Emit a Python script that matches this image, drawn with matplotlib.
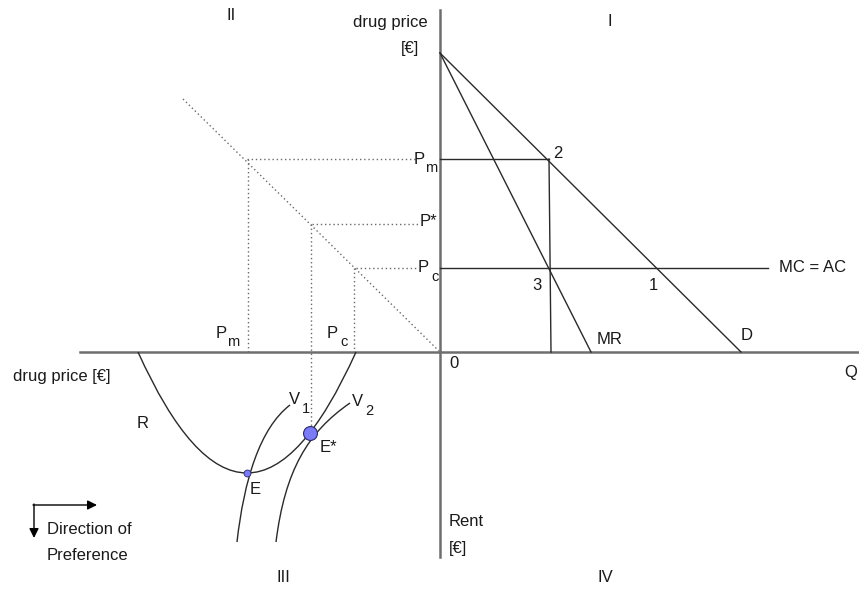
import matplotlib.pyplot as plt
from matplotlib.path import Path
from matplotlib.patches import PathPatch

# Model units: quantity to the right, price up (quadrant I),
# price to the left and rent down (quadrant III)
price_top = 299          # demand / MR intercept on price axis
demand_end = 301         # D intercept on quantity axis
mr_end = 151             # MR intercept on quantity axis
mc_end = 328             # end of MC = AC line
p_m = 193
p_star = 128
p_c = 84
q_m = 109

# 45 degree mirror line in quadrant II
mirror_x = [-257, 0]
mirror_y = [253, 0]

# rent parabola R (start, control, end)
r_ctrl = [(-302, 0), (-193, -242), (-84, 0)]
# indifference curves (cubic bezier control points)
v1_ctrl = [(-203, -190), (-196, -128), (-180, -76), (-150, -53)]
v2_ctrl = [(-164, -190), (-155, -118), (-132, -80), (-90, -51)]
e_pt = (-193, -121)
e_star = (-130, -81)

plt.rcParams['font.family'] = ['Liberation Sans', 'DejaVu Sans']
fig = plt.figure(figsize=(8.59, 5.94), dpi=100)
ax = fig.add_axes([0, 0, 1, 1])
ax.set_xlim(-440, 419)
ax.set_ylim(-242, 352)
ax.axis('off')

axis_kw = dict(color='#6e6e6e', lw=1.8, zorder=2)
line_kw = dict(color='#2a2a2a', lw=1.0, zorder=3)
dot_kw = dict(color='#6a6a6a', lw=1.0, ls=(0, (1, 2)), zorder=2)
fs = 12
sub = 10.5

# Axes
ax.plot([-360, 419], [0, 0], **axis_kw)
ax.plot([0, 0], [-205, 342], **axis_kw)

# Quadrant I
ax.plot([0, demand_end], [price_top, 0], **line_kw)
ax.plot([0, mr_end], [price_top, 0], **line_kw)
ax.plot([0, mc_end], [p_c, p_c], **line_kw)
ax.plot([0, q_m], [p_m, p_m], **line_kw)
ax.plot([q_m, q_m + 2], [p_m, 0], **line_kw)

# Quadrant II mirror
ax.plot(mirror_x, mirror_y, **dot_kw)
for p in [p_m, p_star, p_c]:
    ax.plot([-p, -22], [p, p], **dot_kw)
ax.plot([-p_m + 1, -p_m + 1], [p_m, 0], **dot_kw)
ax.plot([-p_c - 2, -p_c - 2], [p_c, 0], **dot_kw)
ax.plot([e_star[0] + 1, e_star[0] + 1], [p_star, e_star[1] + 5], **dot_kw)

# Quadrant III curves
r_path = Path(r_ctrl, [Path.MOVETO, Path.CURVE3, Path.CURVE3])
ax.add_patch(PathPatch(r_path, fill=False, ec='#2a2a2a', lw=1.0, zorder=3))
for ctrl in [v1_ctrl, v2_ctrl]:
    path = Path(ctrl, [Path.MOVETO, Path.CURVE4, Path.CURVE4, Path.CURVE4])
    ax.add_patch(PathPatch(path, fill=False, ec='#2a2a2a', lw=1.0, zorder=3))
ax.plot(*e_pt, 'o', ms=5, mfc='#7b7bf5', mec='#2a2a6a', mew=0.6, zorder=5)
ax.plot(*e_star, 'o', ms=10, mfc='#7b7bf5', mec='#2a2a6a', mew=0.8, zorder=5)

# Direction of preference arrows
ax.annotate('', xy=(-343, -153), xytext=(-407, -153),
            arrowprops=dict(arrowstyle='-|>', color='black', lw=1.0,
                            mutation_scale=14, shrinkA=0, shrinkB=0))
ax.annotate('', xy=(-406, -186), xytext=(-406, -152),
            arrowprops=dict(arrowstyle='-|>', color='black', lw=1.0,
                            mutation_scale=14, shrinkA=0, shrinkB=0))


def label(x, y, s, ha='center', size=fs):
    ax.text(x, y, s, ha=ha, va='center', fontsize=size, color='#1a1a1a', zorder=6)


def sublabel(x, y, main, low):
    label(x, y, main)
    label(x + 12, y - 9, low, size=sub)


# Quadrant numbers
label(170, 330, 'I')
label(-209, 336, 'II')
label(-157, -226, 'III')
label(165, -226, 'IV')

# Axis titles
label(-12, 330, 'drug price', ha='right')
label(-21, 304, '[€]', ha='right')
label(-427, -24, 'drug price [€]', ha='left')
label(9, -170, 'Rent', ha='left')
label(9, -196, '[€]', ha='left')
label(14, -11, '0')
label(404, -21, 'Q', ha='left')

# Quadrant I labels
label(170, 12, 'MR')
label(307, 17, 'D')
label(339, 85, 'MC = AC', ha='left')
label(118, 199, '2')
label(97, 67, '3')
label(213, 66, '1')
sublabel(-21, 193, 'P', 'm')
label(-12, 130, 'P*')
sublabel(-17, 84, 'P', 'c')

# Quadrant II labels
sublabel(-219, 19, 'P', 'm')
sublabel(-108, 19, 'P', 'c')

# Quadrant III labels
label(-297, -71, 'R')
sublabel(-146, -48, 'V', '1')
sublabel(-83, -50, 'V', '2')
label(-120, -95, 'E*', ha='left')
label(-185, -138, 'E')
label(-393, -178, 'Direction of', ha='left')
label(-393, -203, 'Preference', ha='left')

fig.savefig('out.png', dpi=100)
